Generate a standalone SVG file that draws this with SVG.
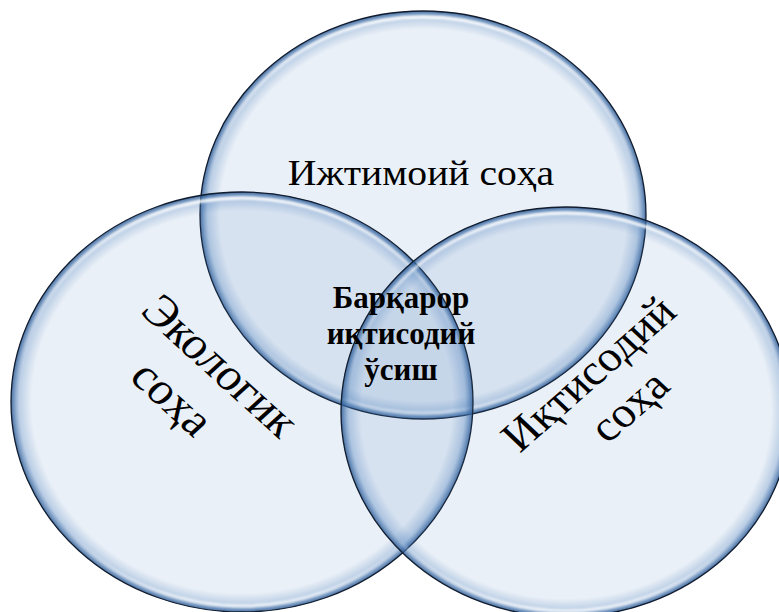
<svg xmlns="http://www.w3.org/2000/svg" width="779" height="612" viewBox="0 0 779 612">
<defs>
<radialGradient id="rim" cx="0.5" cy="0.5" r="0.5">
<stop offset="0" stop-color="#4F81BD" stop-opacity="0"/>
<stop offset="0.91" stop-color="#4F81BD" stop-opacity="0"/>
<stop offset="0.965" stop-color="#4F81BD" stop-opacity="0.3"/>
<stop offset="1" stop-color="#2c5a93" stop-opacity="0.85"/>
</radialGradient>
<linearGradient id="gloss" x1="0" y1="0" x2="0" y2="1">
<stop offset="0" stop-color="#ffffff" stop-opacity="0.95"/>
<stop offset="0.45" stop-color="#ffffff" stop-opacity="0"/>
<stop offset="0.8" stop-color="#ffffff" stop-opacity="0"/>
<stop offset="1" stop-color="#ffffff" stop-opacity="0.8"/>
</linearGradient>
<filter id="soft" x="-5%" y="-5%" width="110%" height="110%"><feGaussianBlur stdDeviation="0.8"/></filter>
</defs>
<style>
.base{fill:#4F81BD;fill-opacity:0.12;stroke:none}
.rim{fill:url(#rim);stroke:none}
.gloss{fill:none;stroke:url(#gloss);stroke-width:3;filter:url(#soft)}
.edge{fill:none;stroke:#111c2e;stroke-width:1.3}
.lbl{font-family:"Liberation Serif","Times New Roman",serif;fill:#000;text-anchor:middle}
.ctr{font-family:"Liberation Serif","Times New Roman",serif;fill:#000;text-anchor:middle;font-weight:bold;font-size:31px}
</style>
<rect width="779" height="612" fill="#ffffff"/>
<g id="node-social">
<ellipse class="base" cx="423" cy="215" rx="223" ry="204"/>
<ellipse class="rim" cx="423" cy="215" rx="223" ry="204"/>
<ellipse class="gloss" cx="423" cy="215" rx="217" ry="198"/>
<ellipse class="edge" cx="423" cy="215" rx="223" ry="204"/>
<text class="lbl" transform="translate(421,185) scale(1.1,1)" font-size="36">Ижтимоий соҳа</text>
</g>
<g id="node-ecology">
<ellipse class="base" cx="242" cy="402" rx="231" ry="210"/>
<ellipse class="rim" cx="242" cy="402" rx="231" ry="210"/>
<ellipse class="gloss" cx="242" cy="402" rx="225" ry="204"/>
<ellipse class="edge" cx="242" cy="402" rx="231" ry="210"/>
<g transform="translate(196,388) scale(1.1,1) rotate(45)">
<text class="lbl" x="0" y="-17" font-size="45">Экологик</text>
<text class="lbl" x="-8" y="37" font-size="45">соҳа</text>
</g>
</g>
<g id="node-economy">
<ellipse class="base" cx="566" cy="412" rx="225" ry="205"/>
<ellipse class="rim" cx="566" cy="412" rx="225" ry="205"/>
<ellipse class="gloss" cx="566" cy="412" rx="219" ry="199"/>
<ellipse class="edge" cx="566" cy="412" rx="225" ry="205"/>
<g transform="translate(610,394) scale(1.1,1) rotate(-44)">
<text class="lbl" x="0" y="-14" font-size="43">Иқтисодий</text>
<text class="lbl" x="4" y="35" font-size="43">соҳа</text>
</g>
</g>
<g id="node-center">
<text class="ctr" x="401" y="308">Барқарор</text>
<text class="ctr" x="401" y="344">иқтисодий</text>
<text class="ctr" x="401" y="380">ўсиш</text>
</g>
</svg>
